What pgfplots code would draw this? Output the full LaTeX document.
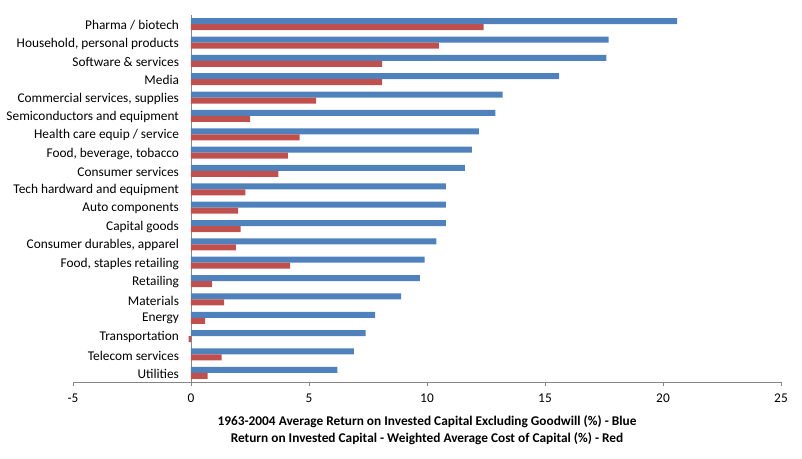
\documentclass[border=0pt]{standalone}
\usepackage{pgfplots}
\pgfplotsset{compat=1.18}
\usepackage{pgfplotstable}
\usepackage{fontspec}
\setmainfont{Carlito}

\definecolor{roicblue}{HTML}{4F81BD}
\definecolor{spreadred}{HTML}{C0504D}
\definecolor{axisgray}{HTML}{868686}

% idx 0 = bottom row (Utilities), idx 19 = top row (Pharma)
\pgfplotstableread{
idx roic spread
0  6.2  0.7
1  6.9  1.3
2  7.4 -0.1
3  7.8  0.6
4  8.9  1.4
5  9.7  0.9
6  9.9  4.2
7  10.4 1.9
8  10.8 2.1
9  10.8 2.0
10 10.8 2.3
11 11.6 3.7
12 11.9 4.1
13 12.2 4.6
14 12.9 2.5
15 13.2 5.3
16 15.6 8.1
17 17.6 8.1
18 17.7 10.5
19 20.6 12.4
}\sectors

\begin{document}
\begin{tikzpicture}
\useasboundingbox (-54.75pt,-57.75pt) rectangle (546.75pt,286.5pt);
\begin{axis}[
  at={(0,0)}, anchor=south west,
  scale only axis,
  width=531pt, height=275.25pt,
  xmin=-5, xmax=25,
  ymin=-0.5, ymax=19.5,
  axis x line=bottom,
  axis y line=middle,
  axis line style={-, draw=axisgray},
  xtick={-5,0,...,25},
  tick align=outside,
  major tick length=3pt,
  xtick style={draw=axisgray},
  ytick={0,...,19},
  ytick style={draw=none},
  yticklabels={Utilities, Telecom services, Transportation, Energy, Materials,
    Retailing, {Food, staples retailing}, {Consumer durables, apparel},
    Capital goods, Auto components, Tech hardward and equipment,
    Consumer services, {Food, beverage, tobacco}, Health care equip / service,
    Semiconductors and equipment, {Commercial services, supplies}, Media,
    Software \& services, {Household, personal products}, Pharma / biotech},
  yticklabel style={font=\fontsize{10}{12}\selectfont, anchor=east, xshift=-2.5pt, yshift=-0.75pt},
  xticklabel style={font=\fontsize{10}{12}\selectfont, yshift=-2.25pt},
  /pgf/number format/assume math mode=true,
  xlabel={1963-2004 Average Return on Invested Capital  Excluding  Goodwill (\%) - Blue\\
          Return on Invested Capital - Weighted Average Cost of Capital (\%) - Red},
  xlabel style={font=\bfseries\fontsize{10}{12.75}\selectfont, align=center, yshift=-3pt},
  clip=false,
]
\addplot[xbar, bar width=4.5pt, bar shift=2.25pt, fill=roicblue, draw=none]
  table[x=roic, y=idx] {\sectors};
\addplot[xbar, bar width=4.5pt, bar shift=-2.25pt, fill=spreadred, draw=none]
  table[x=spread, y=idx] {\sectors};
\end{axis}
\end{tikzpicture}
\end{document}
